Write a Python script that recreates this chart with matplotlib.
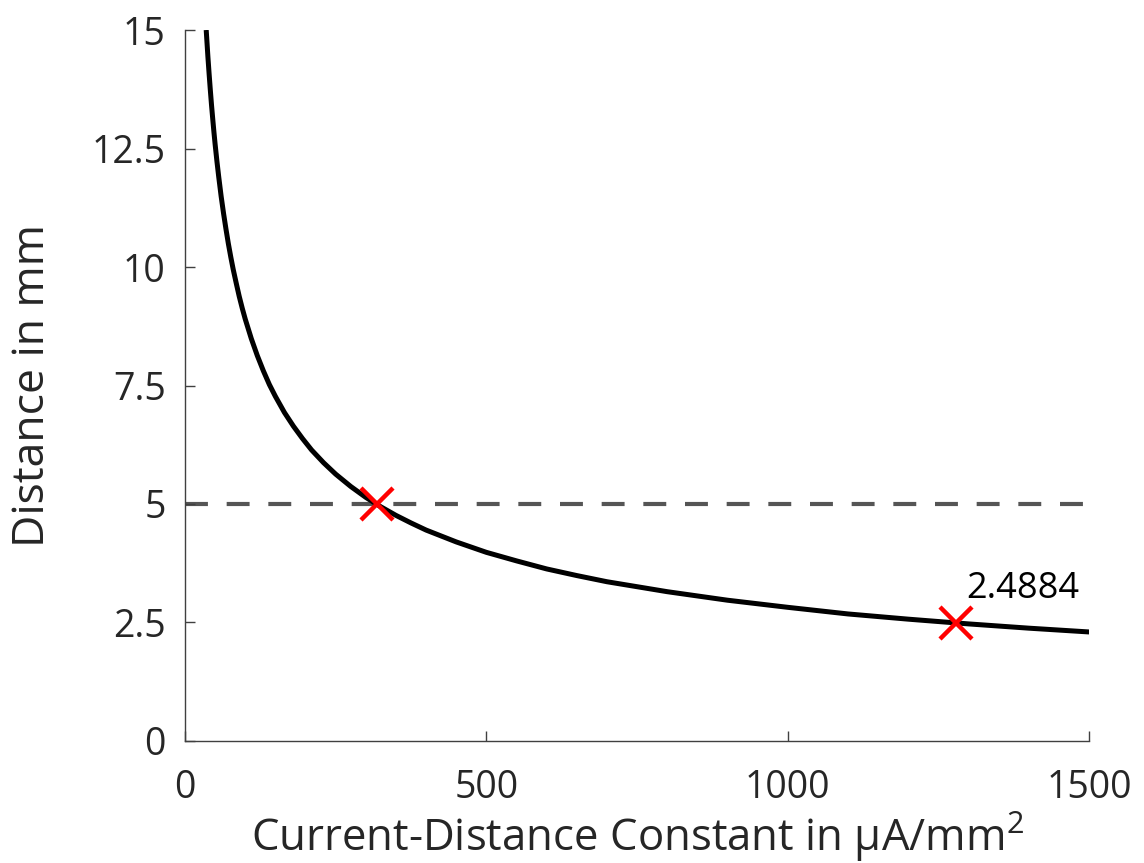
import matplotlib
matplotlib.use("Agg")
import matplotlib.pyplot as plt

plt.rcParams['font.family'] = ['Open Sans', 'DejaVu Sans']
plt.rcParams['mathtext.default'] = 'regular'

# curve samples
const_x = [35.2, 36, 38, 40, 42, 44, 46, 48, 50, 53, 56, 60, 64, 68, 72, 76, 80, 85,
           90, 95, 100, 110, 120, 130, 140, 150, 165, 180, 195, 210, 230, 250, 275,
           300, 325, 350, 375, 400, 450, 500, 550, 600, 650, 700, 800, 900, 1000,
           1100, 1200, 1300, 1400, 1500]
dist_y = [15.0, 14.84, 14.44, 14.08, 13.74, 13.42, 13.13, 12.85, 12.59, 12.23, 11.90,
          11.49, 11.13, 10.80, 10.49, 10.21, 9.95, 9.66, 9.38, 9.13, 8.90, 8.49, 8.13,
          7.81, 7.52, 7.27, 6.93, 6.64, 6.38, 6.14, 5.87, 5.63, 5.37, 5.14, 4.94,
          4.76, 4.60, 4.45, 4.20, 3.98, 3.80, 3.63, 3.49, 3.36, 3.15, 2.97, 2.82,
          2.68, 2.57, 2.47, 2.38, 2.30]

threshold = 5
mark_x = [318, 1280]
mark_y = [5, 2.4884]
annot_text = "2.4884"

xticks = [0, 500, 1000, 1500]
yticks = [0, 2.5, 5, 7.5, 10, 12.5, 15]
ytick_labels = ["0", "2.5", "5", "7.5", "10", "12.5", "15"]

fig = plt.figure(figsize=(11.44, 8.63), dpi=100)
ax = fig.add_axes([0.1617, 0.1414, 0.952 - 0.1617, 0.9652 - 0.1414])

ax.axhline(threshold, color='#555555', lw=3, dashes=(5.5, 4.5), zorder=1)
ax.plot(const_x, dist_y, color='black', lw=3.6, zorder=2,
        solid_capstyle='butt', solid_joinstyle='round')
ax.plot(mark_x, mark_y, linestyle='none', marker='x', color='#ff0000',
        ms=23, mew=3.2, zorder=3)
ax.text(1296, 3.02, annot_text, fontsize=26, color='black', ha='left', va='baseline')

ax.set_xlim(0, 1500)
ax.set_ylim(0, 15)
ax.set_xticks(xticks)
ax.set_xticklabels([str(t) for t in xticks])
ax.set_yticks(yticks)
ax.set_yticklabels(ytick_labels)

for s in ['top', 'right']:
    ax.spines[s].set_visible(False)
for s in ['left', 'bottom']:
    ax.spines[s].set_color('#404040')
    ax.spines[s].set_linewidth(1.0)

ax.tick_params(axis='both', direction='in', length=7, width=1.0, colors='#404040',
               labelcolor='#262626', labelsize=27)
ax.tick_params(axis='x', pad=20)
ax.tick_params(axis='y', pad=14)

ax.set_xlabel(r'Current-Distance Constant in μA/mm$^{2}$', fontsize=31.5, color='#262626', labelpad=2)
ax.set_ylabel('Distance in mm', fontsize=32, color='#262626', labelpad=26)

fig.savefig('out.png', dpi=100)
